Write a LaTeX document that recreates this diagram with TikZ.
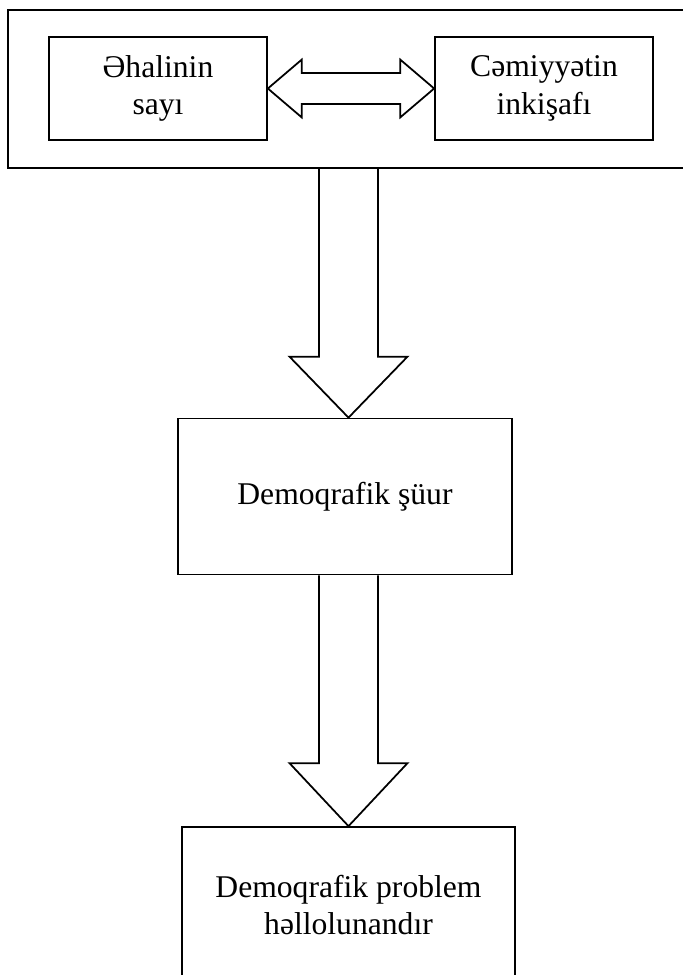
\documentclass[tikz,border=0pt]{standalone}
\usepackage{fontspec}
\setmainfont{Liberation Serif}
\usetikzlibrary{calc}

\begin{document}
\begin{tikzpicture}[
    x=0.02cm, y=-0.02cm,
    line width=1pt,
    every node/.style={font=\fontsize{18}{21.5}\selectfont},
    box/.style={
        draw,
        align=center,
        inner sep=0pt
    },
    smallbox/.style={box, minimum width=4.36cm, minimum height=2.06cm},
    bigbox/.style={box, minimum width=6.68cm, minimum height=3.12cm},
    blockarrow/.style={draw, line join=miter}
    ]
    \useasboundingbox (0,0) rectangle (683,975);

    % ---- Top frame ----
    \node[box, minimum width=14.2cm, minimum height=3.16cm] (frame) at (363,89) {};
    \node[smallbox] (pop) at (158,88.5) {Əhalinin\\sayı};
    \node[smallbox] (soc) at (544,88.5) {Cəmiyyətin\\inkişafı};

    % ---- Lower boxes ----
    \node[bigbox] (aware) at (345,496.5) {Demoqrafik şüur};
    \node[bigbox, minimum width=6.66cm] (solve) at (348.5,905)
        {Demoqrafik problem\\həllolunandır};

    % ---- Double arrow ----
    \draw[blockarrow] (pop.east) -- ++(34,-29) -- ++(0,13.5)
        -- ($(soc.west)+(-34,-15.5)$) -- ++(0,-13.5) -- (soc.west)
        -- ++(-34,29) -- ++(0,-13.5)
        -- ($(pop.east)+(34,15.5)$) -- ++(0,13.5) -- cycle;

    % ---- Down arrows ----
    \draw[blockarrow] ($(frame.south -| solve.north)+(-29.5,0)$)
        -- ($(solve.north |- aware.north)+(-29.5,-61)$)
        -- ($(solve.north |- aware.north)+(-59,-61)$)
        -- (solve.north |- aware.north)
        -- ($(solve.north |- aware.north)+(59,-61)$)
        -- ($(solve.north |- aware.north)+(29.5,-61)$)
        -- ($(frame.south -| solve.north)+(29.5,0)$);
    \draw[blockarrow] ($(aware.south -| solve.north)+(-29.5,0)$)
        -- ($(solve.north)+(-29.5,-63)$)
        -- ($(solve.north)+(-59,-63)$)
        -- (solve.north)
        -- ($(solve.north)+(59,-63)$)
        -- ($(solve.north)+(29.5,-63)$)
        -- ($(aware.south -| solve.north)+(29.5,0)$);

\end{tikzpicture}
\end{document}
